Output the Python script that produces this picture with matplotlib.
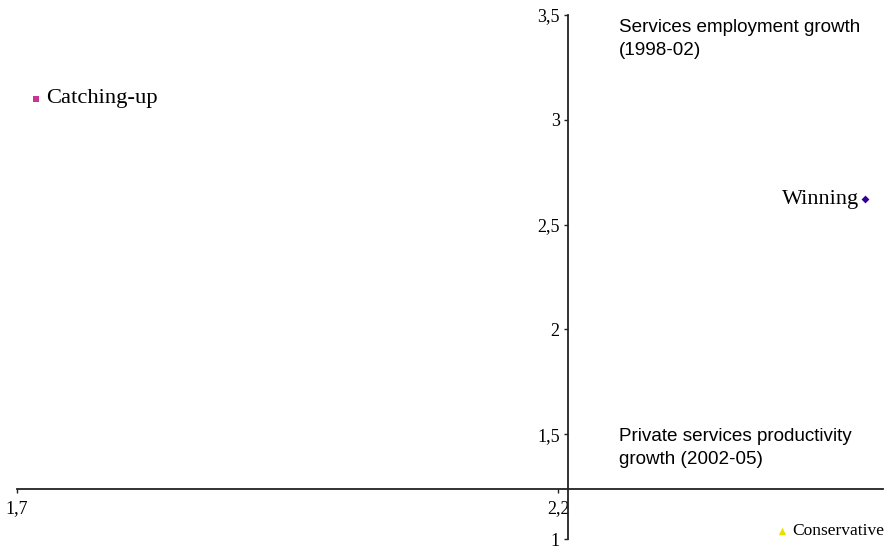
import matplotlib
matplotlib.use("Agg")
import matplotlib.pyplot as plt

# Country groups: private services productivity growth vs services employment growth
groups = ["Catching-up", "Winning", "Conservative"]
productivity = [1.7175, 2.483, 2.407]
employment = [3.10, 2.62, 1.038]
colors = ["#CC3399", "#330099", "#E8E000"]
markers = ["s", "D", "^"]

x_ticks = [1.7, 2.2]
x_tick_labels = ["1,7", "2,2"]
y_ticks = [1, 1.5, 2, 2.5, 3, 3.5]
y_tick_labels = ["1", "1,5", "2", "2,5", "3", "3,5"]

W, H = 889, 548
fig = plt.figure(figsize=(W / 100, H / 100), dpi=100)
ax = fig.add_axes([17 / W, (H - 539) / H, 866 / W, 524 / H])
ax.set_xlim(1.7, 2.5)
ax.set_ylim(1, 3.5)

serif = "Liberation Serif"
sans = "Liberation Sans"

for sp in ("top", "right"):
    ax.spines[sp].set_visible(False)
ax.spines["left"].set_position(("data", 2.209))
ax.spines["bottom"].set_position(("data", 1.24))
for sp in ("left", "bottom"):
    ax.spines[sp].set_color("#222222")
    ax.spines[sp].set_linewidth(1.3)

ax.set_xticks(x_ticks)
ax.set_xticklabels(x_tick_labels, fontfamily=serif, fontsize=13)
ax.set_yticks(y_ticks)
ax.set_yticklabels(y_tick_labels, fontfamily=serif, fontsize=13)
ax.tick_params(axis="both", direction="out", length=3, width=1, color="#222222", pad=3)
ax.tick_params(axis="x", pad=5)

sizes = [20, 16, 28]
for g, x, y, c, m, s in zip(groups, productivity, employment, colors, markers, sizes):
    ax.scatter([x], [y], marker=m, s=s, color=c, zorder=3, linewidths=0)

ax.annotate(groups[0], (productivity[0], employment[0]), xytext=(7, 0),
            textcoords="offset points", ha="left", va="center",
            fontfamily=serif, fontsize=16.2)
ax.annotate(groups[1], (productivity[1], employment[1]), xytext=(-4, 0),
            textcoords="offset points", ha="right", va="center",
            fontfamily=serif, fontsize=16)
ax.annotate(groups[2], (productivity[2], employment[2]), xytext=(7, 0),
            textcoords="offset points", ha="left", va="center",
            fontfamily=serif, fontsize=12.5)

fig.text(619 / W, 1 - 19 / H, "Services employment growth\n(1998-02)",
         ha="left", va="top", fontfamily=sans, fontsize=13.6, linespacing=1.45)
fig.text(619 / W, 1 - 428 / H, "Private services productivity\ngrowth (2002-05)",
         ha="left", va="top", fontfamily=sans, fontsize=13.6, linespacing=1.45)

fig.savefig("out.png", dpi=100)
